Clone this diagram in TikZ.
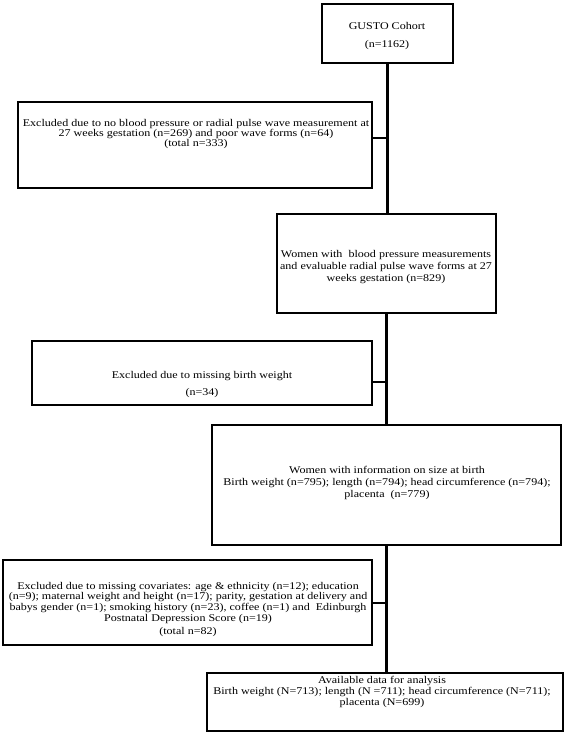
\documentclass[tikz,border=0pt]{standalone}
\usepackage{fontspec}
\setmainfont{Liberation Serif}[FakeStretch=1.17]
\begin{document}
\begin{tikzpicture}[x=1pt,y=-1pt]
\tikzset{
  box/.style={draw, line width=2.6pt, inner sep=0pt},
  txt/.style={align=center, inner sep=0pt},
  link/.style={line width=2.3pt},
}
\useasboundingbox (0,0) rectangle (567,733);
% boxes
\node[box, minimum width=131pt, minimum height=59pt]  (b1) at (387.5,33.5) {};
\node[box, minimum width=354pt, minimum height=86pt]  (b2) at (195,145) {};
\node[box, minimum width=219pt, minimum height=99pt]  (b3) at (386.5,263.5) {};
\node[box, minimum width=340pt, minimum height=64pt]  (b4) at (202,373) {};
\node[box, minimum width=349pt, minimum height=120pt] (b5) at (386.5,485) {};
\node[box, minimum width=369pt, minimum height=85pt]  (b6) at (187.5,602.5) {};
\node[box, minimum width=356pt, minimum height=58pt]  (b7) at (385,702) {};
% texts
\node[txt, font=\fontsize{10.3}{11}\selectfont] (t1) at (387,36) {GUSTO Cohort\\[7pt](n=1162)};
\node[txt, font=\fontsize{10.3}{10}\selectfont] (t2) at (196,134) {Excluded due to no blood pressure or radial pulse wave measurement at\\27 weeks gestation (n=269) and poor wave forms (n=64)\\(total n=333)};
\node[txt, font=\fontsize{10.3}{12}\selectfont] (t3) at (386,267) {Women with~ blood pressure measurements\\and evaluable radial pulse wave forms at 27\\weeks gestation (n=829)};
\node[txt, font=\fontsize{10.3}{11}\selectfont] (t4) at (202,385) {Excluded due to missing birth weight\\[6pt](n=34)};
\node[txt, font=\fontsize{10.3}{12}\selectfont] (t5) at (387,483) {Women with information on size at birth\\Birth weight (n=795); length (n=794); head circumference (n=794);\\placenta~ (n=779)};
\node[txt, font=\fontsize{10.3}{10.7}\selectfont] (t6) at (188,609.5) {Excluded due to missing covariates: age \& ethnicity (n=12); education\\(n=9); maternal weight and height (n=17); parity, gestation at delivery and\\babys gender (n=1); smoking history (n=23), coffee (n=1) and~ Edinburgh\\Postnatal Depression Score (n=19)\\[3pt](total n=82)};
\node[txt, font=\fontsize{10.3}{11}\selectfont] (t7) at (382,692) {Available data for analysis\\Birth weight (N=713); length (N =711); head circumference (N=711);\\placenta (N=699)};
% connectors
\draw[link] (b1.south) -- (b1.south |- b3.north);
\draw[link] (b3.south) -- (b3.south |- b5.north);
\draw[link] (b5.south) -- (b5.south |- b7.north);
\coordinate (j1) at (387,138);
\coordinate (j2) at (387,382);
\coordinate (j3) at (387,603);
\draw[link] (j1 -| b2.east) -- (j1);
\draw[link] (j2 -| b4.east) -- (j2);
\draw[link] (j3 -| b6.east) -- (j3);
\end{tikzpicture}
\end{document}
